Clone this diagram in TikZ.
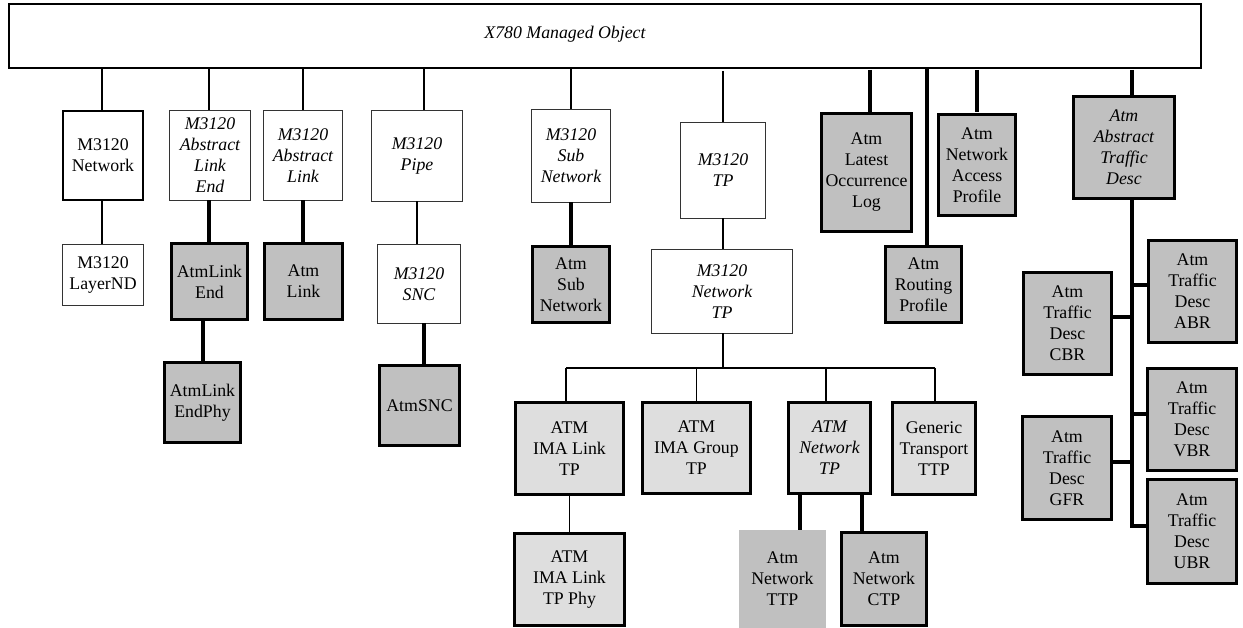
\documentclass[tikz,border=0pt]{standalone}
\usepackage{fontspec}
\setmainfont{Liberation Serif}
\definecolor{boxgray}{HTML}{C0C0C0}
\definecolor{boxlight}{HTML}{DEDEDE}
\begin{document}
\begin{tikzpicture}[x=1pt,y=-1pt,
  every node/.style={font=\fontsize{17.8}{21}\selectfont, align=center,
    inner sep=0pt, outer sep=0pt},
  it/.style={font=\fontsize{17.8}{21}\selectfont\itshape},
  sz/.style 2 args={minimum width=#1pt, minimum height=#2pt},
  whitebox/.style={draw=black!80, line width=1pt, fill=white},
  graybox/.style={draw=black, line width=3pt, fill=boxgray},
  lightbox/.style={draw=black, line width=3pt, fill=boxlight},
  thinlink/.style={line width=1.2pt},
  buslink/.style={line width=1.6pt},
  thicklink/.style={line width=4pt}
]
\useasboundingbox (0,0) rectangle (1243,628);

% root class
\node[draw=black, line width=1.5pt, fill=white, sz={1192}{64}] (top) at (605,36)
  {\hspace*{-80pt}\raisebox{7pt}{\itshape X780 Managed Object}};

% M3120 branch
\node[draw=black, line width=2pt, fill=white, sz={80}{89}] (net) at (103,155.5) {M3120\\Network};
\node[whitebox, sz={81}{61}] (lnd) at (103,275) {M3120\\LayerND};
\node[whitebox, it, sz={81}{90}] (ale) at (210,155.5) {M3120\\Abstract\\Link\\End};
\node[graybox, sz={76}{76}] (atmle) at (209.5,281.5) {AtmLink\\End};
\node[graybox, sz={76}{80}] (atmlep) at (202.5,402.5) {AtmLink\\EndPhy};
\node[whitebox, it, sz={79}{90}] (al) at (303,155.5) {M3120\\Abstract\\Link};
\node[graybox, sz={78}{76}] (atml) at (303.5,281.5) {Atm\\Link};
\node[whitebox, it, sz={91}{91}] (pipe) at (417,156) {M3120\\Pipe};
\node[whitebox, it, sz={83}{79}] (snc) at (419,284) {M3120\\SNC};
\node[graybox, sz={80}{80}] (atmsnc) at (419.5,405.5) {AtmSNC};
\node[whitebox, it, sz={79}{93}] (subn) at (571,156) {M3120\\Sub\\Network};
\node[graybox, sz={77}{76}] (atmsubn) at (571,284.5) {Atm\\Sub\\Network};
\node[whitebox, it, sz={85}{96}] (tp) at (723,170.5) {M3120\\TP};
\node[whitebox, it, sz={141}{84}] (ntp) at (722,291.5) {M3120\\Network\\TP};

% termination points
\node[lightbox, sz={108}{92}] (imal) at (569.5,448.5) {ATM\\IMA Link\\TP};
\node[lightbox, sz={108}{91}] (imag) at (696.5,448) {ATM\\IMA Group\\TP};
\node[lightbox, it, sz={82}{91}] (antp) at (829.5,448) {ATM\\Network\\TP};
\node[lightbox, sz={83}{92}] (gttp) at (934,448.5) {Generic\\Transport\\TTP};
\node[lightbox, sz={110}{92}] (imalp) at (569.5,579.5) {ATM\\IMA Link\\TP Phy};
\node[fill=boxgray, sz={87}{98}] (anttp) at (782.5,579) {Atm\\Network\\TTP};
\node[graybox, sz={85}{93}] (anctp) at (884,579) {Atm\\Network\\CTP};

% ATM support objects
\node[graybox, sz={90}{118}] (log) at (866.5,172.5) {Atm\\Latest\\Occurrence\\Log};
\node[graybox, sz={76}{76}] (rp) at (923.5,284.5) {Atm\\Routing\\Profile};
\node[graybox, sz={77}{101}] (nap) at (977,165) {Atm\\Network\\Access\\Profile};

% traffic descriptors
\node[graybox, it, sz={101}{102}] (atd) at (1124,147.5) {Atm\\Abstract\\Traffic\\Desc};
\node[graybox, sz={88}{102}] (abr) at (1192.5,291.5) {Atm\\Traffic\\Desc\\ABR};
\node[graybox, sz={88}{102}] (cbr) at (1067.5,323.5) {Atm\\Traffic\\Desc\\CBR};
\node[graybox, sz={89}{102}] (vbr) at (1192,419.5) {Atm\\Traffic\\Desc\\VBR};
\node[graybox, sz={89}{103}] (gfr) at (1067,468) {Atm\\Traffic\\Desc\\GFR};
\node[graybox, sz={89}{104}] (ubr) at (1192,531.5) {Atm\\Traffic\\Desc\\UBR};

% inheritance links from the root
\draw[thinlink] ([xshift=-1pt]net.north |- top.south) -- ([xshift=-1pt]net.north);
\draw[thinlink] ([xshift=-1pt]ale.north |- top.south) -- ([xshift=-1pt]ale.north);
\draw[thinlink] (al.north |- top.south) -- (al.north);
\draw[thinlink] ([xshift=7pt]pipe.north |- top.south) -- ([xshift=7pt]pipe.north);
\draw[thinlink] (subn.north |- top.south) -- (subn.north);
\draw[thinlink, shorten <=3pt] (tp.north |- top.south) -- (tp.north);
\draw[thicklink, shorten <=2pt] ([xshift=3.5pt]log.north |- top.south) -- ([xshift=3.5pt]log.north);
\draw[thicklink] ([xshift=3.5pt]rp.north |- top.south) -- ([xshift=3.5pt]rp.north);
\draw[thicklink, shorten <=2pt, shorten >=2pt] (nap.north |- top.south) -- (nap.north);
\draw[thicklink, shorten <=2pt] ([xshift=8pt]atd.north |- top.south) -- ([xshift=8pt]atd.north);

% second level links
\draw[thinlink] ([xshift=-1pt]net.south) -- ([xshift=-1pt]lnd.north);
\draw[thicklink] ([xshift=-1pt]ale.south) -- ([xshift=-1pt]ale.south |- atmle.north);
\draw[thicklink] (atmlep.north |- atmle.south) -- (atmlep.north);
\draw[thicklink] (al.south) -- (al.south |- atml.north);
\draw[thinlink] (pipe.south) -- (pipe.south |- snc.north);
\draw[thicklink] ([xshift=4.5pt]atmsnc.north |- snc.south) -- ([xshift=4.5pt]atmsnc.north);
\draw[thicklink] (subn.south) -- (atmsubn.north);
\draw[thinlink] (tp.south) -- (tp.south |- ntp.north);

% network TP subclasses
\coordinate (busjoint) at (723,368);
\draw[line width=2pt] (busjoint |- ntp.south) -- (busjoint);
\draw[buslink] ([xshift=-3.5pt]imal.north |- busjoint) -- ([xshift=1pt]gttp.north |- busjoint);
\draw[buslink] ([xshift=-3.5pt]imal.north |- busjoint) -- ([xshift=-3.5pt]imal.north);
\draw[buslink] (imag.north |- busjoint) -- (imag.north);
\draw[buslink] ([xshift=-3.5pt]antp.north |- busjoint) -- ([xshift=-3.5pt]antp.north);
\draw[buslink] ([xshift=1pt]gttp.north |- busjoint) -- ([xshift=1pt]gttp.north);
\draw[buslink] (imal.south) -- (imalp.north);
\draw[thicklink] ([xshift=17.5pt]anttp.north |- antp.south) -- ([xshift=17.5pt]anttp.north);
\draw[thicklink] ([xshift=-22pt]anctp.north |- antp.south) -- ([xshift=-22pt]anctp.north);

% traffic descriptor trunk
\coordinate (trunk) at ([xshift=8pt]atd.south);
\draw[thicklink] (trunk) |- ([yshift=6pt]ubr.west);
\draw[thicklink] ([yshift=6pt]abr.west) -- ([yshift=6pt]abr.west -| trunk);
\draw[thicklink] ([yshift=6pt]cbr.east) -- ([yshift=6pt]cbr.east -| trunk);
\draw[thicklink] ([yshift=6pt]vbr.west) -- ([yshift=6pt]vbr.west -| trunk);
\draw[thicklink] ([yshift=6pt]gfr.east) -- ([yshift=6pt]gfr.east -| trunk);
\end{tikzpicture}
\end{document}
